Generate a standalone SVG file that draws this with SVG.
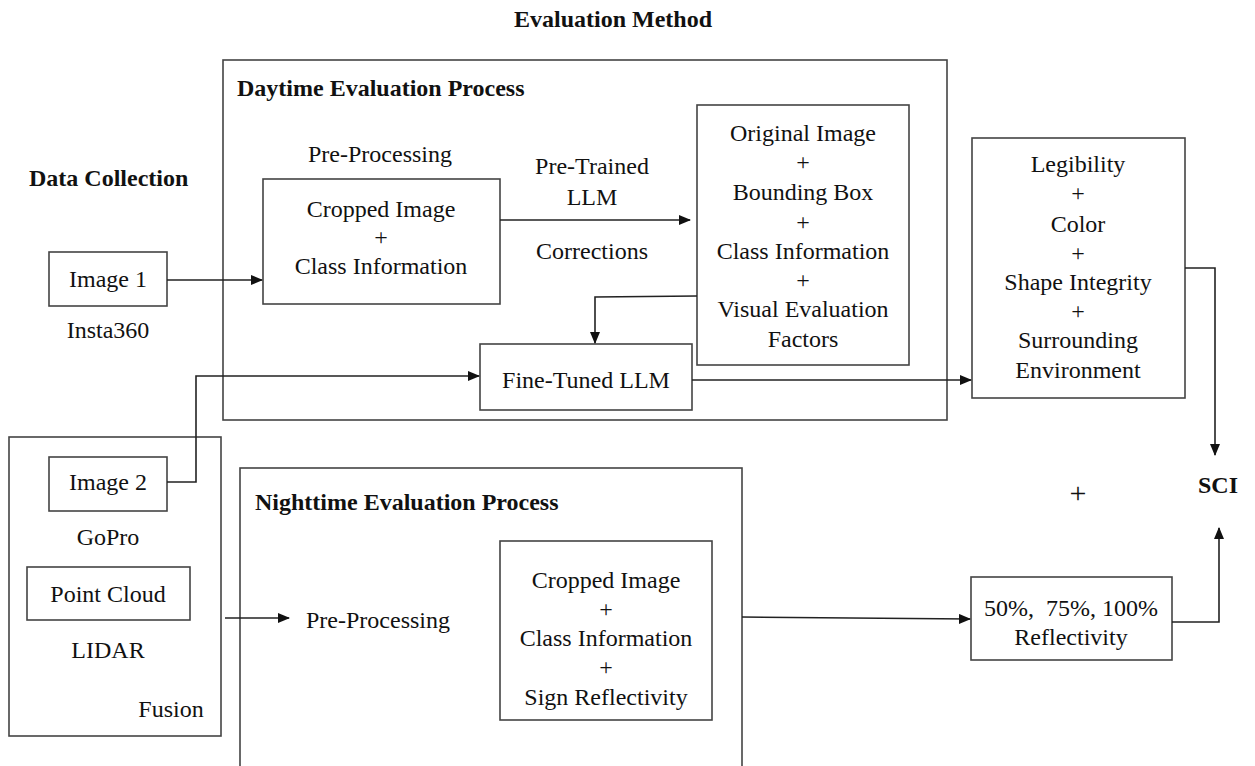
<svg xmlns="http://www.w3.org/2000/svg" width="1255" height="766" viewBox="0 0 1255 766">
  <style>
    .box { fill: #fff; stroke: #444; stroke-width: 1.6; }
    .frame { fill: none; stroke: #444; stroke-width: 1.6; }
    .t { font-family: "Liberation Serif", "Times New Roman", serif; font-size: 24px; fill: #111; text-anchor: middle; }
    .b { font-family: "Liberation Serif", "Times New Roman", serif; font-size: 24px; font-weight: bold; fill: #111; }
    .edge { fill: none; stroke: #222; stroke-width: 1.6; }
  </style>
  <defs>
    <marker id="arr" markerWidth="12" markerHeight="10" refX="11" refY="5" orient="auto" markerUnits="userSpaceOnUse">
      <path d="M0,0 L12,5 L0,10 Z" fill="#111"/>
    </marker>
  </defs>
  <rect width="1255" height="766" fill="#fff"/>

  <text class="b" x="613" y="27" text-anchor="middle">Evaluation Method</text>
  <text class="b" x="29" y="186">Data Collection</text>

  <g id="daytime">
    <rect class="frame" x="223" y="60" width="724" height="360"/>
    <text class="b" x="237" y="96">Daytime Evaluation Process</text>
    <text class="t" x="380" y="162">Pre-Processing</text>
  </g>

  <g id="cropped-day">
    <rect class="box" x="263" y="179" width="237" height="125"/>
    <text class="t" x="381" y="217">Cropped Image</text>
    <text class="t" x="381" y="245">+</text>
    <text class="t" x="381" y="274">Class Information</text>
  </g>

  <g id="pretrained-label">
    <text class="t" x="592" y="174">Pre-Trained</text>
    <text class="t" x="592" y="205">LLM</text>
    <text class="t" x="592" y="259">Corrections</text>
  </g>

  <g id="original">
    <rect class="box" x="697" y="105" width="212" height="260"/>
    <text class="t" x="803" y="141">Original Image</text>
    <text class="t" x="803" y="170">+</text>
    <text class="t" x="803" y="200">Bounding Box</text>
    <text class="t" x="803" y="230">+</text>
    <text class="t" x="803" y="259">Class Information</text>
    <text class="t" x="803" y="288">+</text>
    <text class="t" x="803" y="317">Visual Evaluation</text>
    <text class="t" x="803" y="347">Factors</text>
  </g>

  <g id="finetuned">
    <rect class="box" x="480" y="344" width="212" height="66"/>
    <text class="t" x="586" y="388">Fine-Tuned LLM</text>
  </g>

  <g id="criteria">
    <rect class="box" x="972" y="138" width="213" height="260"/>
    <text class="t" x="1078" y="172">Legibility</text>
    <text class="t" x="1078" y="201">+</text>
    <text class="t" x="1078" y="232">Color</text>
    <text class="t" x="1078" y="261">+</text>
    <text class="t" x="1078" y="290">Shape Integrity</text>
    <text class="t" x="1078" y="319">+</text>
    <text class="t" x="1078" y="348">Surrounding</text>
    <text class="t" x="1078" y="378">Environment</text>
  </g>

  <g id="sci">
    <text class="b" x="1218" y="493" text-anchor="middle">SCI</text>
    <text class="t" x="1078" y="503" style="font-size:30px">+</text>
  </g>

  <g id="image1">
    <rect class="box" x="49" y="252" width="118" height="54"/>
    <text class="t" x="108" y="287">Image 1</text>
    <text class="t" x="108" y="338">Insta360</text>
  </g>

  <g id="fusion">
    <rect class="frame" x="9" y="437" width="212" height="299"/>
    <text class="t" x="171" y="717">Fusion</text>
  </g>

  <g id="image2">
    <rect class="box" x="49" y="457" width="118" height="54"/>
    <text class="t" x="108" y="490">Image 2</text>
    <text class="t" x="108" y="545">GoPro</text>
  </g>

  <g id="pointcloud">
    <rect class="box" x="27" y="567" width="163" height="53"/>
    <text class="t" x="108" y="602">Point Cloud</text>
    <text class="t" x="108" y="658">LIDAR</text>
  </g>

  <g id="nighttime">
    <rect class="frame" x="240" y="468" width="502" height="310"/>
    <text class="b" x="255" y="510">Nighttime Evaluation Process</text>
    <text class="t" x="378" y="628">Pre-Processing</text>
  </g>

  <g id="cropped-night">
    <rect class="box" x="500" y="541" width="212" height="179"/>
    <text class="t" x="606" y="588">Cropped Image</text>
    <text class="t" x="606" y="617">+</text>
    <text class="t" x="606" y="646">Class Information</text>
    <text class="t" x="606" y="675">+</text>
    <text class="t" x="606" y="705">Sign Reflectivity</text>
  </g>

  <g id="reflectivity">
    <rect class="box" x="971" y="577" width="201" height="83"/>
    <text class="t" x="1071" y="616" style="white-space:pre">50%,  75%, 100%</text>
    <text class="t" x="1071" y="645">Reflectivity</text>
  </g>

  <g id="connectors">
    <path class="edge" d="M167,280 H262" marker-end="url(#arr)"/>
    <path class="edge" d="M500,220 H690" marker-end="url(#arr)"/>
    <path class="edge" d="M697,296 L595,297 V343" marker-end="url(#arr)"/>
    <path class="edge" d="M692,380 H971" marker-end="url(#arr)"/>
    <path class="edge" d="M167,482 H196 V376 H479" marker-end="url(#arr)"/>
    <path class="edge" d="M1185,268 H1215 V455" marker-end="url(#arr)"/>
    <path class="edge" d="M225,618 H289" marker-end="url(#arr)"/>
    <path class="edge" d="M742,617 L970,619" marker-end="url(#arr)"/>
    <path class="edge" d="M1172,622 H1219 V528" marker-end="url(#arr)"/>
  </g>
</svg>
